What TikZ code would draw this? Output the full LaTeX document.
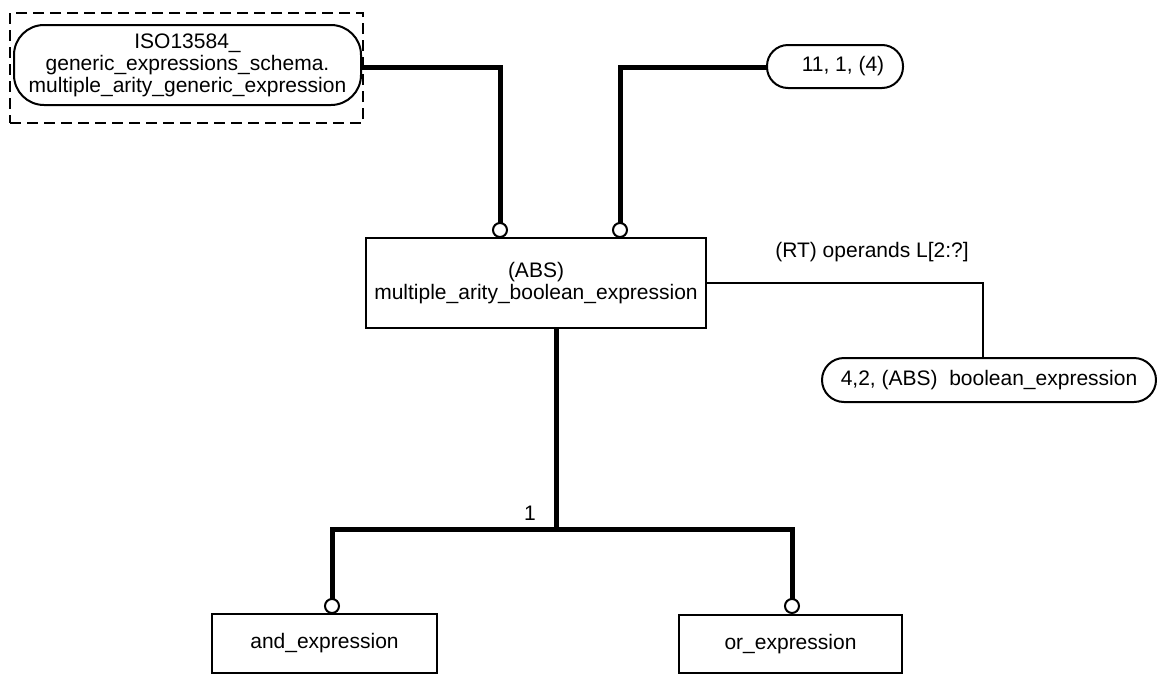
\documentclass[tikz,border=0pt]{standalone}
\usepackage{fontspec}
\setmainfont{Liberation Sans}
\begin{document}
\begin{tikzpicture}[x=1pt,y=-1pt,
  every node/.style={font=\fontsize{21}{22}\selectfont, inner sep=0pt, outer sep=0pt},
  entbox/.style={draw, line width=2pt, align=center},
  pill/.style={draw, line width=2pt, align=center},
  dashbox/.style={draw, line width=2pt, dash pattern=on 11pt off 6pt},
  ring/.style={draw, circle, line width=2pt, fill=white, minimum size=14pt},
  thickline/.style={line width=5pt},
  thinline/.style={line width=2pt}]
\useasboundingbox (0,0) rectangle (1157,675);

\node[dashbox, minimum width=353pt, minimum height=110pt] (dash) at (186.5,68) {};
\node[pill, rounded corners=30pt, minimum width=347pt, minimum height=80pt] (pillA) at (187.5,65)
  {ISO13584\_\\generic\_expressions\_schema.\\multiple\_arity\_generic\_expression};
\node[pill, rounded corners=21pt, minimum width=136pt, minimum height=43pt] (pillB) at (835,66.5)
  {\hspace*{16pt}11, 1, (4)};
\node[pill, rounded corners=22pt, minimum width=334pt, minimum height=44pt] (pillC) at (989,380)
  {4,2, (ABS)\ \ boolean\_expression};

\node[entbox, minimum width=340pt, minimum height=90pt] (main) at (536,283)
  {(ABS)\\multiple\_arity\_boolean\_expression};
\node[entbox, minimum width=225pt, minimum height=59pt] (andx) at (324.5,643.5) {and\_expression};
\node[entbox, minimum width=223pt, minimum height=58pt] (orx) at (790.5,644) {or\_expression};

\coordinate (j) at (556,529);
\coordinate (rc) at (983,0);
\coordinate (t1) at (500,223);
\coordinate (t2) at (620,223);

\draw[thickline] ([yshift=-2pt]pillA.east) -| (t1);
\draw[thickline] ([yshift=-1pt]pillB.west) -| (t2);
\node[ring] (c1) at (500,230) {};
\node[ring] (c2) at (620,230) {};

\draw[thinline] (main.east) -| (rc |- pillC.north);
\node (rt) at (872,252) {(RT) operands L[2:?]};

\draw[thickline] (main.south -| j) -- (j);
\node[ring] (c3) at (332,606) {};
\node[ring] (c4) at (792,606) {};
\draw[thickline] (c3.north) |- (j) -| (c4.north);
\node (one) at (530,513) {1};
\end{tikzpicture}
\end{document}
